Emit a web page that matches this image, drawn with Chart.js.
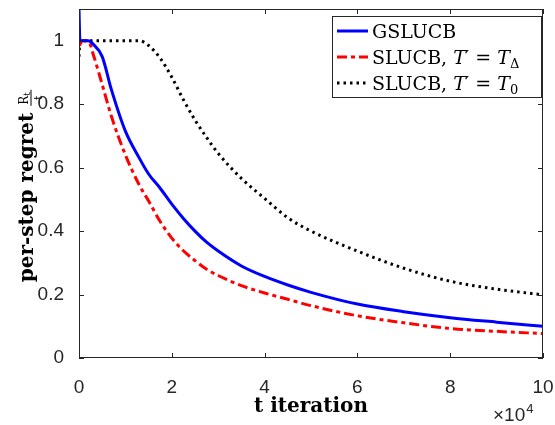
<!DOCTYPE html>
<html lang="en">
<head>
  <meta charset="UTF-8">
  <title>per-step regret</title>
  <script src="https://cdn.jsdelivr.net/npm/chart.js"></script>
  <style>
    html, body { margin: 0; padding: 0; background: #fff; }
  </style>
</head>
<body>
  <canvas id="myChart" width="555" height="425"></canvas>
  <script>
  // iterations (x) and per-step regret of each run
  const tIter = [0, 200, 500, 1000, 2000, 3000, 5000, 7000, 10000, 13000, 15000, 17500,
                 20000, 22500, 25000, 27500, 30000, 35000, 40000, 45000, 50000, 60000, 70000,
                 80000, 90000, 100000];
  const gslucb = [1.10, 1.0, 1.0, 1.0, 1.0, 0.99, 0.95, 0.845, 0.715, 0.63, 0.58, 0.535,
                  0.485, 0.44, 0.40, 0.365, 0.337, 0.29, 0.257, 0.23, 0.207, 0.17, 0.146,
                  0.127, 0.113, 0.10];
  const slucbDelta = [1.04, 0.98, 1.0, 1.0, 1.0, 0.96, 0.862, 0.761, 0.64, 0.545, 0.495, 0.43,
                      0.378, 0.338, 0.307, 0.28, 0.26, 0.228, 0.205, 0.185, 0.165, 0.133, 0.111,
                      0.093, 0.084, 0.077];
  const slucbZero = [0.95, 1.0, 1.0, 1.0, 1.0, 1.0, 1.0, 1.0, 1.0, 1.0, 0.985, 0.945,
                     0.885, 0.814, 0.75, 0.695, 0.645, 0.566, 0.503, 0.442, 0.40, 0.337, 0.283,
                     0.242, 0.217, 0.199];

  const xTicks = [0, 20000, 40000, 60000, 80000, 100000];
  const yTicks = [0, 0.2, 0.4, 0.6, 0.8, 1];

  const legendNames = ["GSLUCB", "SLUCB, ", "SLUCB, "];
  const legendSubs = [null, "\u0394", "0"];

  const axisColor = "#262626";
  const tickFont = { family: "'Liberation Sans', Arial, sans-serif", size: 19 };

  function pts(ys) {
    return tIter.map((t, i) => ({ x: t, y: ys[i] }));
  }

  function noOverflow(s) {
    s.paddingLeft = 0; s.paddingRight = 0; s.paddingTop = 0; s.paddingBottom = 0;
  }

  // MATLAB-like box, inward ticks, titles and legend
  const matlabAxes = {
    id: "matlabAxes",
    afterDraw(chart) {
      const { ctx, chartArea: a, scales } = chart;
      const sx = scales.x, sy = scales.y;
      ctx.save();
      ctx.strokeStyle = axisColor;
      ctx.lineWidth = 1;
      ctx.setLineDash([]);
      ctx.strokeRect(a.left + 0.5, a.top + 0.5, a.right - a.left - 1, a.bottom - a.top - 1);
      ctx.beginPath();
      xTicks.forEach(v => {
        const px = Math.round(sx.getPixelForValue(v)) + 0.5;
        ctx.moveTo(px, a.bottom); ctx.lineTo(px, a.bottom - 5);
        ctx.moveTo(px, a.top); ctx.lineTo(px, a.top + 5);
      });
      yTicks.forEach(v => {
        const py = Math.round(sy.getPixelForValue(v)) + 0.5;
        ctx.moveTo(a.left, py); ctx.lineTo(a.left + 5, py);
        ctx.moveTo(a.right, py); ctx.lineTo(a.right - 5, py);
      });
      ctx.stroke();

      // x title
      ctx.fillStyle = "#000";
      ctx.font = "bold 20px 'DejaVu Serif'";
      ctx.textAlign = "center";
      ctx.textBaseline = "alphabetic";
      ctx.fillText("t iteration", (a.left + a.right) / 2, 412);

      // x10^4
      ctx.fillStyle = axisColor;
      ctx.textAlign = "left";
      ctx.font = "19px 'Liberation Sans'";
      ctx.fillText("\u00d710", 493, 421);
      const w10 = ctx.measureText("\u00d710").width;
      ctx.font = "13px 'Liberation Sans'";
      ctx.fillText("4", 493 + w10 + 1, 413);

      // y title, rotated, with fraction R_t / t
      ctx.fillStyle = "#000";
      ctx.save();
      ctx.translate(33, 0);
      ctx.rotate(-Math.PI / 2);
      ctx.font = "bold 20px 'DejaVu Serif'";
      const main = "per-step regret";
      const mw = ctx.measureText(main).width;
      ctx.font = "12px 'DejaVu Serif'";
      const rw = ctx.measureText("R").width;
      const fw = rw + 7;
      const total = mw + 7 + fw;
      const start = -(186 + total / 2);
      ctx.font = "bold 20px 'DejaVu Serif'";
      ctx.fillText(main, start, 0);
      const fx = start + mw + 7;
      ctx.font = "12px 'DejaVu Serif'";
      ctx.fillText("R", fx + 1, -5);
      ctx.font = "9px 'DejaVu Serif'";
      ctx.fillText("t", fx + 1 + rw, -3);
      ctx.fillRect(fx, -2.5, fw, 1);
      ctx.font = "11px 'DejaVu Serif'";
      ctx.textAlign = "center";
      ctx.fillText("t", fx + fw / 2, 8.5);
      ctx.restore();

      // legend
      const lx = 332, ly = 16, lw = 210, lh = 82;
      ctx.fillStyle = "#fff";
      ctx.fillRect(lx, ly, lw, lh);
      ctx.strokeStyle = axisColor;
      ctx.lineWidth = 1;
      ctx.strokeRect(lx + 0.5, ly + 0.5, lw - 1, lh - 1);
      const rows = [31, 57, 83];
      chart.data.datasets.forEach((ds, i) => {
        const ry = rows[i];
        ctx.strokeStyle = ds.borderColor;
        ctx.lineWidth = ds.borderWidth;
        ctx.setLineDash(ds.borderDash || []);
        ctx.beginPath();
        ctx.moveTo(337, ry); ctx.lineTo(368, ry);
        ctx.stroke();
        ctx.setLineDash([]);
        ctx.fillStyle = "#000";
        ctx.textAlign = "left";
        let tx = 372;
        const base = ry + 7;
        const draw = (s, font, dy) => {
          ctx.font = font;
          ctx.fillText(s, tx, base + (dy || 0));
          tx += ctx.measureText(s).width;
        };
        draw(legendNames[i], "19px 'DejaVu Serif'");
        if (legendSubs[i]) {
          draw("T", "italic 19px 'DejaVu Serif'");
          draw("\u2032", "15px 'DejaVu Serif'", -3);
          draw(" = ", "19px 'DejaVu Serif'");
          draw("T", "italic 19px 'DejaVu Serif'");
          draw(legendSubs[i], "13px 'DejaVu Serif'", 4);
        }
      });
      ctx.restore();
    }
  };

  const config = {
    type: "line",
    data: {
      datasets: [{
        label: "GSLUCB",
        data: pts(gslucb),
        borderColor: "#0000ff",
        borderWidth: 3,
        pointRadius: 0,
        cubicInterpolationMode: "monotone",
        fill: false
      }, {
        label: "SLUCB, T' = T_Delta",
        data: pts(slucbDelta),
        borderColor: "#ff0000",
        borderWidth: 3,
        borderDash: [10, 4, 4, 4],
        pointRadius: 0,
        cubicInterpolationMode: "monotone",
        fill: false
      }, {
        label: "SLUCB, T' = T_0",
        data: pts(slucbZero),
        borderColor: "#000000",
        borderWidth: 3,
        borderDash: [2.5, 4],
        pointRadius: 0,
        cubicInterpolationMode: "monotone",
        fill: false
      }]
    },
    options: {
      responsive: false,
      animation: false,
      layout: { padding: { top: 9, right: 12, left: 0, bottom: 0 } },
      plugins: { legend: { display: false }, tooltip: { enabled: false } },
      scales: {
        x: {
          type: "linear",
          min: 0,
          max: 100000,
          grid: { display: false },
          border: { display: false },
          afterBuildTicks: s => { s.ticks = xTicks.map(v => ({ value: v })); },
          afterFit: s => { s.height = 67; noOverflow(s); },
          ticks: { font: tickFont, color: axisColor, padding: 10, maxRotation: 0,
                   callback: v => String(v / 10000) }
        },
        y: {
          type: "linear",
          min: 0,
          max: 1.1,
          grid: { display: false },
          border: { display: false },
          afterBuildTicks: s => { s.ticks = yTicks.map(v => ({ value: v })); },
          afterFit: s => { s.width = 79; noOverflow(s); },
          ticks: { font: tickFont, color: axisColor, padding: 7,
                   callback: v => String(v) }
        }
      }
    },
    plugins: [matlabAxes]
  };

  var myChart = new Chart(document.getElementById("myChart"), config);
  </script>
</body>
</html>
